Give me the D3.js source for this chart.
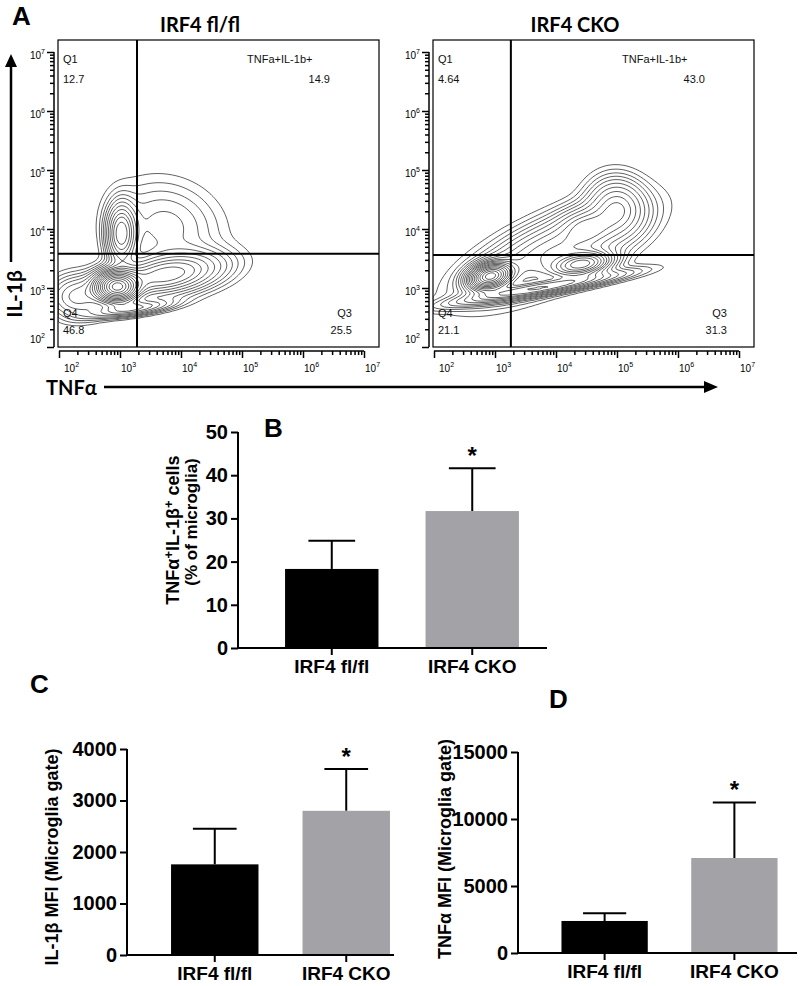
<!DOCTYPE html>
<html>
<head>
<meta charset="utf-8">
<script src="https://cdnjs.cloudflare.com/ajax/libs/d3/7.8.5/d3.min.js"></script>
<style>
  body { margin: 0; background: #fff; }
  text { font-family: "Liberation Sans", Arial, sans-serif; }
</style>
</head>
<body>
<div id="fig"></div>
<script>
// ---- data ----
// flow plots: quadrant gate (TNFa, IL-1b) and quadrant percentages
var gateFlfl = [1900, 3800];
var gateCko = [1820, 3630];
var quadFlfl = ["12.7", "14.9", "46.8", "25.5"];   // Q1, Q2, Q4, Q3
var quadCko = ["4.64", "43.0", "21.1", "31.3"];
// density blobs, in log10 units:
// [log TNFa, log IL-1b, spread x, spread y, angle deg, weight]
var blobsFlfl = [
  [2.95, 3.02, 0.20, 0.15, 0, 1.0],
  [3.75, 3.22, 0.55, 0.20, 10, 0.30],
  [3.02, 3.92, 0.14, 0.30, 0, 0.30],
  [3.75, 4.05, 0.55, 0.45, -20, 0.07],
  [2.30, 2.85, 0.28, 0.22, 0, 0.12],
  [3.20, 2.65, 0.40, 0.07, 8, 0.18]
];
var blobsCko = [
  [2.92, 3.20, 0.20, 0.12, 15, 1.0],
  [4.42, 3.40, 0.28, 0.11, 10, 0.55],
  [3.95, 3.62, 0.85, 0.30, 25, 0.22],
  [5.00, 4.38, 0.28, 0.30, 20, 0.18],
  [3.75, 3.00, 0.80, 0.07, 10, 0.28],
  [4.48, 4.05, 0.25, 0.18, 0, 0.10]
];
var contourLevels = [0.01, 0.018, 0.028, 0.04, 0.055, 0.075, 0.1, 0.13, 0.165, 0.2, 0.245, 0.3, 0.36, 0.43, 0.51, 0.6, 0.7, 0.81, 0.92];
var decades = [2, 3, 4, 5, 6, 7];

// bar charts
var groups = ["IRF4 fl/fl", "IRF4 CKO"];
var barColors = ["#000000", "#a3a3a7"];
var pctMean = [18.3, 31.7], pctErr = [6.5, 9.9];
var pctTicks = [0, 10, 20, 30, 40, 50];
var il1bMean = [1760, 2800], il1bErr = [690, 810];
var il1bTicks = [0, 1000, 2000, 3000, 4000];
var tnfMean = [2390, 7090], tnfErr = [570, 4150];
var tnfTicks = [0, 5000, 10000, 15000];

// ---- svg ----
var svg = d3.select("#fig").append("svg")
  .attr("width", 800).attr("height", 986);

// panel A
svg.append("text").attr("x", 12).attr("y", 25)
  .attr("font-size", 26).attr("font-weight", "bold").text("A");

function drawFlow(ox, title, gate, quad, blobs, id) {
  var top = 40, bw = 321, bh = 307;
  var x = d3.scaleLog().domain([Math.pow(10, 2 - 1 / 61), Math.pow(10, 2 + 320 / 61)]).range([ox, ox + bw]);
  var y = d3.scaleLog().domain([1e2, Math.pow(10, 2 + 307 / 59)]).range([top + bh, top]);

  svg.append("text").attr("x", ox + 142).attr("y", 32)
    .attr("text-anchor", "middle").attr("font-size", 20).attr("font-weight", "bold")
    .style("font-family", "Lato, sans-serif").text(title);

  // density grid -> contours
  var cell = 2, nx = Math.ceil(bw / cell), ny = Math.ceil(bh / cell);
  var vals = new Array(nx * ny);
  for (var j = 0; j < ny; j++) {
    for (var i = 0; i < nx; i++) {
      var lx = Math.log10(x.invert(ox + (i + 0.5) * cell));
      var ly = Math.log10(y.invert(top + (j + 0.5) * cell));
      var s = 0;
      blobs.forEach(function (b) {
        var a = b[4] * Math.PI / 180;
        var dx = lx - b[0], dy = ly - b[1];
        var u = dx * Math.cos(a) + dy * Math.sin(a);
        var v = -dx * Math.sin(a) + dy * Math.cos(a);
        s += b[5] * Math.exp(-0.5 * (u * u / (b[2] * b[2]) + v * v / (b[3] * b[3])));
      });
      vals[j * nx + i] = s;
    }
  }
  var mx = d3.max(vals);
  var gx = d3.scaleLinear().domain([0, nx]).range([ox, ox + nx * cell]);
  var gy = d3.scaleLinear().domain([0, ny]).range([top, top + ny * cell]);
  var contours = d3.contours().size([nx, ny])
    .thresholds(contourLevels.map(function (l) { return l * mx; }))(vals);
  var path = d3.geoPath(d3.geoTransform({
    point: function (px, py) { this.stream.point(gx(px), gy(py)); }
  }));

  svg.append("clipPath").attr("id", id).append("rect")
    .attr("x", ox).attr("y", top).attr("width", bw).attr("height", bh);
  svg.append("g").attr("clip-path", "url(#" + id + ")")
    .selectAll("path").data(contours).enter().append("path")
    .attr("d", path).attr("fill", "none")
    .attr("stroke", "#505050").attr("stroke-width", 0.9);

  // box and gates
  svg.append("rect").attr("x", ox).attr("y", top).attr("width", bw).attr("height", bh)
    .attr("fill", "none").attr("stroke", "#000").attr("stroke-width", 1.2);
  svg.append("line").attr("x1", x(gate[0])).attr("x2", x(gate[0]))
    .attr("y1", top).attr("y2", top + bh).attr("stroke", "#000").attr("stroke-width", 2);
  svg.append("line").attr("x1", ox).attr("x2", ox + bw)
    .attr("y1", y(gate[1])).attr("y2", y(gate[1])).attr("stroke", "#000").attr("stroke-width", 2);

  // axes
  var minors = [];
  decades.slice(0, -1).forEach(function (d) {
    for (var m = 2; m < 10; m++) minors.push(m * Math.pow(10, d));
  });
  var majors = decades.map(function (d) { return Math.pow(10, d); });
  var ax = top + bh + 4;
  var xg = svg.append("g").attr("transform", "translate(0," + ax + ")");
  xg.append("g").call(d3.axisBottom(x).tickValues(minors).tickSize(4).tickFormat(""));
  xg.append("g").call(d3.axisBottom(x).tickValues(majors).tickSize(7).tickFormat(""));
  xg.selectAll(".domain").remove();
  xg.selectAll("line").attr("stroke-width", 1.5);
  xg.append("line").attr("x1", x(1e2)).attr("x2", x(1e7)).attr("stroke", "#000").attr("stroke-width", 1.5);

  var ayx = ox - 4;
  var yg = svg.append("g").attr("transform", "translate(" + ayx + ",0)");
  yg.append("g").call(d3.axisLeft(y).tickValues(minors).tickSize(4).tickFormat(""));
  yg.append("g").call(d3.axisLeft(y).tickValues(majors).tickSize(7).tickFormat(""));
  yg.selectAll(".domain").remove();
  yg.selectAll("line").attr("stroke-width", 1.5);
  yg.append("line").attr("y1", y(1e2)).attr("y2", y(1e7)).attr("stroke", "#000").attr("stroke-width", 1.5);

  decades.forEach(function (d, k) {
    var t = svg.append("text").attr("x", x(Math.pow(10, d)) + (k === 0 ? 5 : 1)).attr("y", ax + 21)
      .attr("font-size", 10);
    t.append("tspan").text("10");
    t.append("tspan").attr("dy", -5).attr("font-size", 7).text(d);
    var t2 = svg.append("text").attr("x", ayx - 9).attr("y", y(Math.pow(10, d)) + (k === 0 ? -4 : 7))
      .attr("text-anchor", "end").attr("font-size", 10);
    t2.append("tspan").text("10");
    t2.append("tspan").attr("dy", -5).attr("font-size", 7).text(d);
  });

  // quadrant labels
  var qf = 11;
  function lab(tx, ty, s, anchor) {
    svg.append("text").attr("x", tx).attr("y", ty).attr("font-size", qf)
      .attr("text-anchor", anchor || "start").attr("fill", "#111").text(s);
  }
  lab(ox + 5, 63, "Q1"); lab(ox + 5, 83, quad[0]);
  lab(ox + 189, 63, "TNFa+IL-1b+"); lab(ox + 272, 83, quad[1], "end");
  lab(ox + 5, 317, "Q4"); lab(ox + 5, 334, quad[2]);
  lab(ox + 294, 317, "Q3", "end"); lab(ox + 294, 334, quad[3], "end");
}

drawFlow(58, "IRF4 fl/fl", gateFlfl, quadFlfl, blobsFlfl, "clipA1");
drawFlow(433, "IRF4 CKO", gateCko, quadCko, blobsCko, "clipA2");

// axis arrows
svg.append("line").attr("x1", 11).attr("x2", 11).attr("y1", 262).attr("y2", 64)
  .attr("stroke", "#000").attr("stroke-width", 2.5);
svg.append("path").attr("d", "M11,54 L5,67 L17,67 Z").attr("fill", "#000");
svg.append("text").attr("transform", "translate(22,294) rotate(-90)")
  .attr("text-anchor", "middle").attr("font-size", 21).attr("font-weight", "bold")
  .style("font-family", "Lato, sans-serif").text("IL-1β");
svg.append("text").attr("x", 46).attr("y", 395)
  .attr("font-size", 20).attr("font-weight", "bold")
  .style("font-family", "Lato, sans-serif").text("TNFα");
svg.append("line").attr("x1", 104).attr("x2", 706).attr("y1", 387).attr("y2", 387)
  .attr("stroke", "#000").attr("stroke-width", 2.5);
svg.append("path").attr("d", "M718,387 L704,381 L704,393 Z").attr("fill", "#000");

// ---- bar charts ----
function drawBars(o) {
  var x = d3.scaleBand().domain(groups).range([o.ax, o.rEnd])
    .paddingInner(0.335).paddingOuter(0.335);
  var y = d3.scaleLinear().domain([0, o.max]).range([o.base, o.top]);
  var g = svg.append("g");

  g.selectAll(".err").data(groups).enter().append("g").each(function (d, i) {
    var cx = x(d) + x.bandwidth() / 2, e = o.mean[i] + o.err[i];
    var s = d3.select(this);
    s.append("line").attr("x1", cx).attr("x2", cx).attr("y1", y(o.mean[i])).attr("y2", y(e))
      .attr("stroke", "#000").attr("stroke-width", 2);
    s.append("line").attr("x1", cx - x.bandwidth() / 4).attr("x2", cx + x.bandwidth() / 4)
      .attr("y1", y(e)).attr("y2", y(e)).attr("stroke", "#000").attr("stroke-width", 2);
    if (i === 1) {
      s.append("text").attr("x", cx).attr("y", y(e) - 4).attr("text-anchor", "middle")
        .attr("font-size", 24).attr("font-weight", "bold").text("*");
    }
  });
  g.selectAll("rect").data(groups).enter().append("rect")
    .attr("x", function (d) { return x(d); })
    .attr("width", x.bandwidth())
    .attr("y", function (d, i) { return y(o.mean[i]); })
    .attr("height", function (d, i) { return o.base - y(o.mean[i]); })
    .attr("fill", function (d, i) { return barColors[i]; });

  // y axis
  var yg = g.append("g").attr("transform", "translate(" + o.ax + ",0)")
    .call(d3.axisLeft(y).tickValues(o.ticks).tickSize(7).tickPadding(3).tickFormat(d3.format("d")));
  yg.select(".domain").attr("stroke-width", 2).attr("d", "M0," + y(0) + "V" + y(o.max));
  yg.selectAll("line").attr("stroke-width", 2);
  yg.selectAll("text").attr("font-size", 20).attr("font-weight", "bold").attr("fill", "#000")
    .style("font-family", "'Liberation Sans', Arial, sans-serif");

  // x axis
  var xg = g.append("g").attr("transform", "translate(0," + o.base + ")")
    .call(d3.axisBottom(x).tickSize(7).tickPadding(6));
  xg.select(".domain").attr("stroke-width", 2).attr("d", "M" + o.ax + ",0H" + o.lineEnd);
  xg.selectAll("line").attr("stroke-width", 2);
  xg.selectAll("text").attr("font-size", 19).attr("font-weight", "bold").attr("fill", "#000")
    .attr("dy", null).attr("y", 25)
    .style("font-family", "'Liberation Sans', Arial, sans-serif");

  svg.append("text").attr("x", o.letter[0]).attr("y", o.letter[1])
    .attr("font-size", 26).attr("font-weight", "bold").text(o.letterText);
}

drawBars({ ax: 238, rEnd: 566, lineEnd: 547, base: 648, top: 432, max: 50,
  ticks: pctTicks, mean: pctMean, err: pctErr, letter: [264, 437], letterText: "B" });
drawBars({ ax: 127, rEnd: 434, lineEnd: 394, base: 955, top: 749, max: 4000,
  ticks: il1bTicks, mean: il1bMean, err: il1bErr, letter: [30, 693], letterText: "C" });
drawBars({ ax: 518, rEnd: 821, lineEnd: 797, base: 953, top: 752, max: 15000,
  ticks: tnfTicks, mean: tnfMean, err: tnfErr, letter: [549, 708], letterText: "D" });

// y titles
var t1 = svg.append("text").attr("transform", "translate(179,530) rotate(-90)")
  .attr("text-anchor", "middle").attr("font-size", 18).attr("font-weight", "bold");
t1.append("tspan").text("TNFα");
t1.append("tspan").attr("dy", -6).attr("font-size", 13).text("+");
t1.append("tspan").attr("dy", 6).text("IL-1β");
t1.append("tspan").attr("dy", -6).attr("font-size", 13).text("+");
t1.append("tspan").attr("dy", 6).text(" cells");
svg.append("text").attr("transform", "translate(197,522) rotate(-90)")
  .attr("text-anchor", "middle").attr("font-size", 17).attr("font-weight", "bold")
  .text("(% of microglia)");
svg.append("text").attr("transform", "translate(58,857) rotate(-90)")
  .attr("text-anchor", "middle").attr("font-size", 18).attr("font-weight", "bold")
  .text("IL-1β MFI (Microglia gate)");
svg.append("text").attr("transform", "translate(451,849) rotate(-90)")
  .attr("text-anchor", "middle").attr("font-size", 18).attr("font-weight", "bold")
  .text("TNFα MFI (Microglia gate)");
</script>
</body>
</html>
